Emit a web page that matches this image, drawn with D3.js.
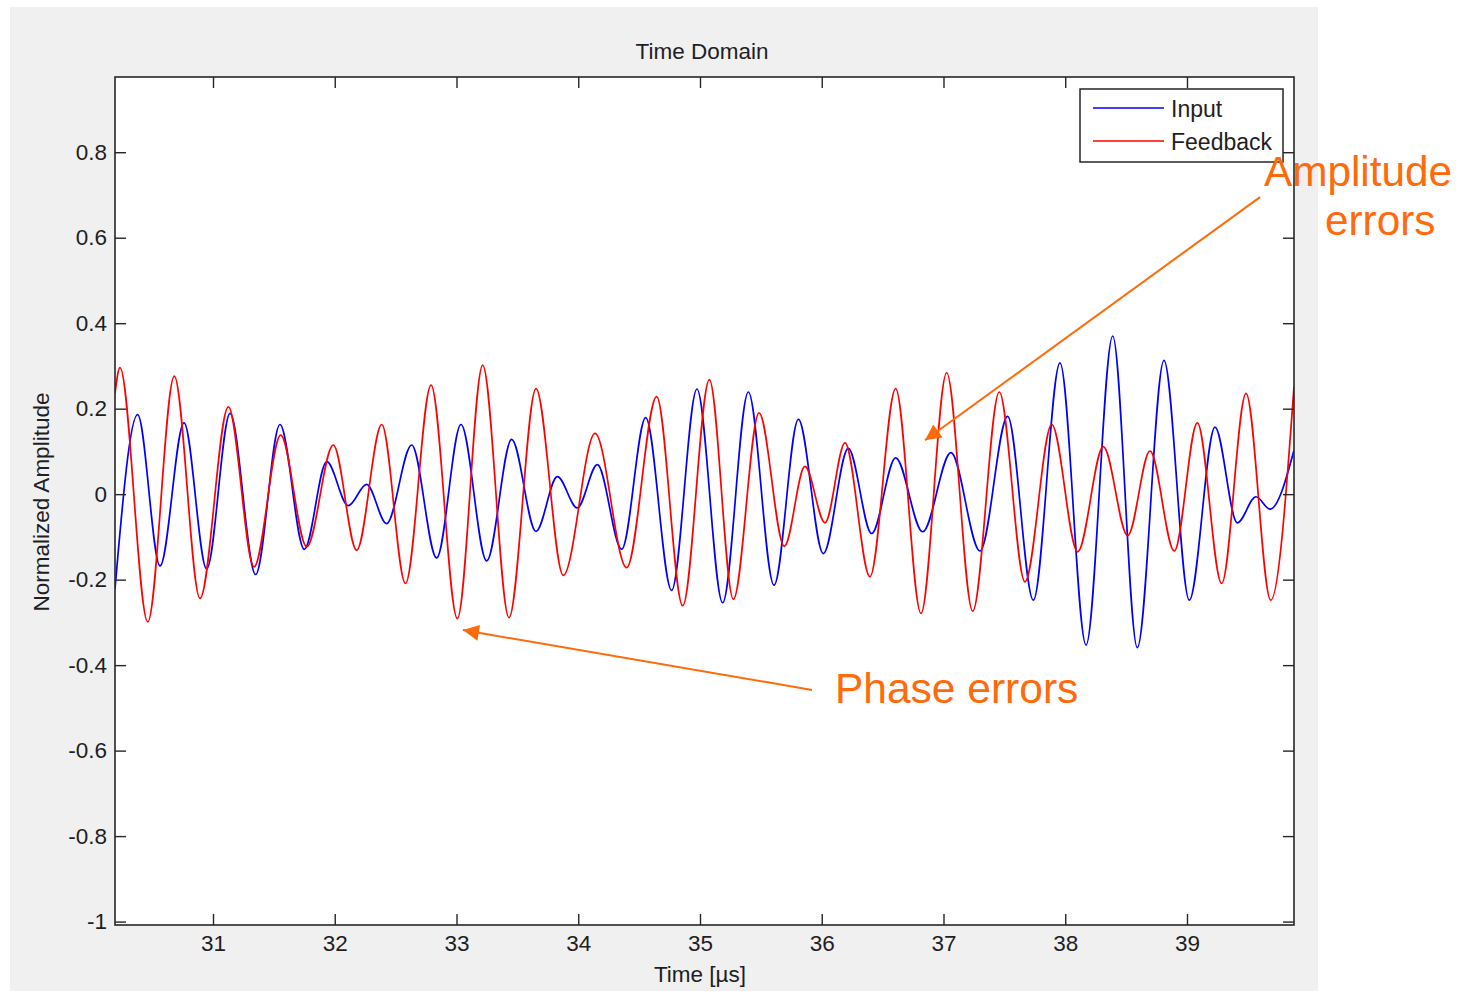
<!DOCTYPE html>
<html>
<head>
<meta charset="utf-8">
<script src="https://cdn.jsdelivr.net/npm/d3@7"></script>
<style>
  html, body { margin: 0; padding: 0; background: #ffffff; }
  svg { display: block; }
  text { font-family: "Liberation Sans", Arial, sans-serif; }
</style>
</head>
<body>
<svg id="chart" width="1462" height="993"></svg>
<script>
// Time samples (µs) and amplitudes at the turning points of each waveform
const inputTime = [30.195, 30.381, 30.565, 30.762, 30.948, 31.140, 31.350, 31.550, 31.750, 31.934,
  32.111, 32.262, 32.426, 32.632, 32.837, 33.037, 33.248, 33.453, 33.653, 33.828,
  33.992, 34.157, 34.357, 34.554, 34.767, 34.975, 35.186, 35.397, 35.608, 35.808,
  36.013, 36.218, 36.410, 36.607, 36.829, 37.061, 37.300, 37.527, 37.738, 37.957,
  38.171, 38.390, 38.592, 38.811, 39.019, 39.230, 39.413, 39.567, 39.682, 39.879];
const inputValue = [-0.221, 0.186, -0.168, 0.167, -0.175, 0.189, -0.188, 0.163, -0.129, 0.076,
  -0.027, 0.023, -0.069, 0.115, -0.149, 0.163, -0.156, 0.128, -0.087, 0.041,
  -0.032, 0.069, -0.129, 0.179, -0.225, 0.246, -0.254, 0.239, -0.213, 0.175,
  -0.139, 0.107, -0.092, 0.085, -0.088, 0.097, -0.133, 0.182, -0.248, 0.307,
  -0.353, 0.370, -0.359, 0.313, -0.248, 0.157, -0.067, -0.006, -0.035, 0.103];

const feedbackTime = [30.195, 30.236, 30.464, 30.682, 30.893, 31.126, 31.337, 31.556, 31.770, 31.988,
  32.180, 32.386, 32.581, 32.791, 33.007, 33.215, 33.431, 33.653, 33.877, 34.138,
  34.398, 34.644, 34.858, 35.077, 35.274, 35.485, 35.693, 35.862, 36.027, 36.191,
  36.396, 36.607, 36.815, 37.026, 37.240, 37.458, 37.669, 37.889, 38.102, 38.313,
  38.513, 38.696, 38.896, 39.085, 39.285, 39.485, 39.688, 39.879];
const feedbackValue = [0.236, 0.296, -0.299, 0.276, -0.244, 0.204, -0.170, 0.138, -0.123, 0.115,
  -0.131, 0.163, -0.209, 0.255, -0.291, 0.302, -0.289, 0.247, -0.190, 0.142,
  -0.172, 0.228, -0.261, 0.268, -0.246, 0.190, -0.122, 0.065, -0.067, 0.120,
  -0.193, 0.247, -0.279, 0.284, -0.274, 0.239, -0.205, 0.163, -0.135, 0.111,
  -0.097, 0.101, -0.133, 0.167, -0.209, 0.236, -0.248, 0.251];

const xTicks = [31, 32, 33, 34, 35, 36, 37, 38, 39];
const yTicks = [-1, -0.8, -0.6, -0.4, -0.2, 0, 0.2, 0.4, 0.6, 0.8];
const yTickLabels = ["-1", "-0.8", "-0.6", "-0.4", "-0.2", "0", "0.2", "0.4", "0.6", "0.8"];
const seriesNames = ["Input", "Feedback"];
const seriesColors = ["#0000ff", "#ff0000"];

// Callout arrows: [tailTime, tailValue, tipTime, tipValue]
const amplitudeArrow = [39.600, 0.695, 36.848, 0.126];
const phaseArrow = [35.920, -0.458, 33.053, -0.318];

const svg = d3.select("#chart");
const plot = { left: 115, right: 1294, top: 77, bottom: 925 };
const orange = "#ff6a0a";
const ink = "#1e1e24";
const labelSize = 22.5;

// Figure background
svg.append("rect").attr("x", 10).attr("y", 7).attr("width", 1308).attr("height", 984)
  .attr("fill", "#f0f0f0");

const x = d3.scaleLinear().domain([30.195, 39.879]).range([plot.left, plot.right]);
const y = d3.scaleLinear().domain([-1.008, 0.976]).range([plot.bottom, plot.top]);

// Axes background
svg.append("rect").attr("x", plot.left).attr("y", plot.top)
  .attr("width", plot.right - plot.left).attr("height", plot.bottom - plot.top)
  .attr("fill", "#ffffff");

svg.append("defs").append("clipPath").attr("id", "plotClip")
  .append("rect").attr("x", plot.left).attr("y", plot.top)
  .attr("width", plot.right - plot.left).attr("height", plot.bottom - plot.top);

// Waveforms
const line = d3.line().curve(d3.curveMonotoneX).x(d => x(d[0])).y(d => y(d[1]));
const inputData = d3.zip(inputTime, inputValue);
const feedbackData = d3.zip(feedbackTime, feedbackValue);
const traces = svg.append("g").attr("clip-path", "url(#plotClip)");
[inputData, feedbackData].forEach((data, i) => {
  traces.append("path").datum(data)
    .attr("d", line)
    .attr("fill", "none")
    .attr("stroke", seriesColors[i])
    .attr("stroke-width", 1.7)
    .attr("stroke-linejoin", "round");
});

// Box axes with inward ticks on all four sides
const tickLen = 11;
const yLabel = d => yTickLabels[yTicks.indexOf(d)];
const axisStyle = g => {
  g.select(".domain").remove();
  g.selectAll(".tick line").attr("stroke", "#262626").attr("stroke-width", 1.4);
};
svg.append("g").attr("transform", `translate(0,${plot.bottom})`)
  .call(d3.axisBottom(x).tickValues(xTicks).tickSize(-tickLen).tickFormat(d3.format("d")))
  .call(axisStyle)
  .call(g => g.selectAll(".tick text").attr("font-size", labelSize).attr("fill", ink)
    .attr("dy", "0.71em").attr("y", 10));
svg.append("g").attr("transform", `translate(0,${plot.top})`)
  .call(d3.axisTop(x).tickValues(xTicks).tickSize(-tickLen).tickFormat(""))
  .call(axisStyle);
svg.append("g").attr("transform", `translate(${plot.left},0)`)
  .call(d3.axisLeft(y).tickValues(yTicks).tickSize(-tickLen).tickPadding(8).tickFormat(yLabel))
  .call(axisStyle)
  .call(g => g.selectAll(".tick text").attr("font-size", labelSize).attr("fill", ink));
svg.append("g").attr("transform", `translate(${plot.right},0)`)
  .call(d3.axisRight(y).tickValues(yTicks).tickSize(-tickLen).tickFormat(""))
  .call(axisStyle);

svg.append("rect").attr("x", plot.left).attr("y", plot.top)
  .attr("width", plot.right - plot.left).attr("height", plot.bottom - plot.top)
  .attr("fill", "none").attr("stroke", "#262626").attr("stroke-width", 1.6);

// Titles
svg.append("text").attr("x", 702).attr("y", 59).attr("text-anchor", "middle")
  .attr("font-size", labelSize).attr("fill", ink).text("Time Domain");
svg.append("text").attr("x", 700).attr("y", 982).attr("text-anchor", "middle")
  .attr("font-size", labelSize).attr("fill", ink).text("Time [µs]");
svg.append("text").attr("transform", "translate(49,502) rotate(-90)").attr("text-anchor", "middle")
  .attr("font-size", labelSize).attr("fill", ink).text("Normalized Amplitude");

// Legend
const legend = svg.append("g");
legend.append("rect").attr("x", 1080).attr("y", 89).attr("width", 203).attr("height", 73)
  .attr("fill", "#ffffff").attr("stroke", "#262626").attr("stroke-width", 1.5);
seriesNames.forEach((name, i) => {
  const ly = 108 + i * 33;
  legend.append("line").attr("x1", 1093).attr("x2", 1164).attr("y1", ly).attr("y2", ly)
    .attr("stroke", seriesColors[i]).attr("stroke-width", 1.6);
  legend.append("text").attr("x", 1171).attr("y", ly + 9).attr("font-size", 23)
    .attr("fill", ink).text(name);
});

// Callouts
const defs = svg.select("defs");
defs.append("marker").attr("id", "arrowHead").attr("viewBox", "0 0 10 10")
  .attr("refX", 10).attr("refY", 5).attr("markerWidth", 9).attr("markerHeight", 8)
  .attr("markerUnits", "strokeWidth").attr("orient", "auto")
  .append("path").attr("d", "M0,0 L10,5 L0,10 Z").attr("fill", orange);

[amplitudeArrow, phaseArrow].forEach(a => {
  svg.append("line")
    .attr("x1", x(a[0])).attr("y1", y(a[1]))
    .attr("x2", x(a[2])).attr("y2", y(a[3]))
    .attr("stroke", orange).attr("stroke-width", 2)
    .attr("marker-end", "url(#arrowHead)");
});

svg.append("text").attr("x", 1264).attr("y", 186).attr("font-size", 42.3)
  .attr("fill", orange).text("Amplitude");
svg.append("text").attr("x", 1325).attr("y", 235).attr("font-size", 42.3)
  .attr("fill", orange).text("errors");
svg.append("text").attr("x", 835).attr("y", 703).attr("font-size", 42.5)
  .attr("fill", orange).text("Phase errors");
</script>
</body>
</html>
